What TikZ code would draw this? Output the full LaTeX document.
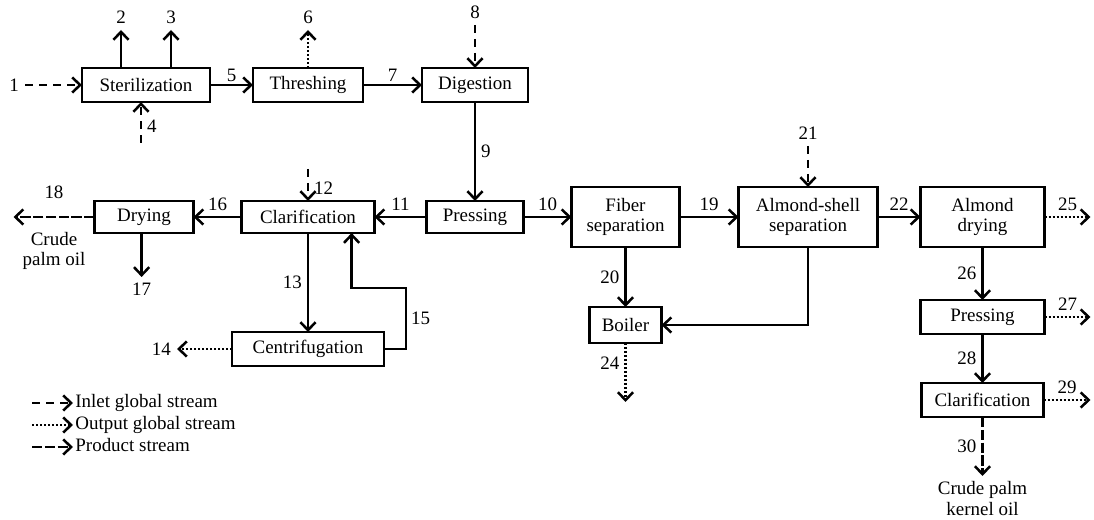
\documentclass[tikz,border=0pt]{standalone}
\usepackage{fontspec}
\setmainfont{Liberation Serif}
\usetikzlibrary{arrows.meta,positioning,calc}

\begin{document}
\begin{tikzpicture}[
  node distance = 12mm,
  every node/.style = {font=\fontsize{13.5}{14.5}\selectfont},
  unitop/.style  = {rectangle, draw, line width=2pt, minimum height=8.5mm,
                    align=center, inner sep=1mm, outer sep=0pt},
  tallop/.style  = {unitop, minimum height=15mm},
  arr/.style     = {-{Straight Barb[length=2mm,width=3.8mm]}, line width=1.8pt},
  inlet/.style   = {arr, dash pattern=on 2mm off 1.5mm},
  outlet/.style  = {arr, dash pattern=on 0.6mm off 0.4mm},
  prod/.style    = {arr, dash pattern=on 2.6mm off 0.6mm},
  lbl/.style     = {inner sep=3.5pt},
  legtxt/.style  = {inner sep=1.5pt, anchor=west, text height=3.3mm, text depth=1mm},
]
\useasboundingbox (0,0) rectangle (273.5mm,-130mm);

% ── Palm oil line ────────────────────────────────────────────
\node[unitop, minimum width=32mm] (ster) at (36.5mm,-21.25mm) {Sterilization};
\node[unitop, minimum width=27.5mm, right=10.75mm of ster] (thr) {Threshing};
\node[unitop, minimum width=26.5mm, right=14.75mm of thr]  (dig) {Digestion};
\node[unitop, minimum width=24.25mm, minimum height=8mm, below=24.75mm of dig] (press) {Pressing};
\node[unitop, minimum width=33.25mm, minimum height=8mm, left=13mm of press]  (clar)  {Clarification};
\node[unitop, minimum width=24.75mm, minimum height=8mm, left=12mm of clar]   (dry)   {Drying};
\node[unitop, minimum width=38mm, below=24.75mm of clar] (cent) {Centrifugation};

% ── Kernel line ──────────────────────────────────────────────
\node[tallop, minimum width=27mm, right=12mm of press]   (fib) {Fiber\\separation};
\node[tallop, minimum width=34.75mm, right=14.75mm of fib] (ash) {Almond-shell\\separation};
\node[tallop, minimum width=31mm, right=10.75mm of ash]  (ady) {Almond\\drying};
\node[unitop, minimum width=18mm, minimum height=9mm, below=15mm of fib] (boil) {Boiler};
\node[unitop, minimum width=31mm, below=13.25mm of ady]     (pressR) {Pressing};
\node[unitop, minimum width=30.5mm, below=12.25mm of pressR] (clarR) {Clarification};

% ── Streams, top row ─────────────────────────────────────────
\draw[inlet] (ster.west) ++(-14.25mm,0) node[lbl,left]{1} -- (ster.west);
\draw[arr] ([xshift=-6.25mm]ster.north) -- ++(0,9.5mm) node[lbl,above]{2};
\draw[arr] ([xshift=6.25mm]ster.north) -- ++(0,9.5mm) node[lbl,above]{3};
\draw[inlet] ([xshift=-1.25mm]ster.south) ++(0,-10.25mm)
  -- node[lbl,right,pos=0.4]{4} ([xshift=-1.25mm]ster.south);
\draw[arr] (ster) -- node[lbl,above,inner sep=1.5pt]{5} (thr);
\draw[outlet] (thr.north) -- ++(0,9.5mm) node[lbl,above]{6};
\draw[arr] (thr) -- node[lbl,above,inner sep=1.5pt]{7} (dig);
\draw[inlet] (dig.north) ++(0,10.75mm) node[lbl,above]{8} -- (dig.north);
\draw[arr] (dig.south) -- node[lbl,right]{9} (dig.south |- press.north);

% ── Streams, oil clarification ───────────────────────────────
\draw[arr] (press) -- node[lbl,above]{10} (fib);
\draw[arr] (press) -- node[lbl,above]{11} (clar);
\draw[inlet] (clar.north) ++(0,8mm) -- node[lbl,right,pos=0.6]{12} (clar.north);
\draw[arr] (clar.south) -- node[lbl,left]{13} (clar.south |- cent.north);
\draw[outlet] (cent.west) -- ++(-13.75mm,0) node[lbl,left]{14};
\draw[arr]
  (cent.east)
    -- ++(5.5mm,0) coordinate (RecA)
    |- ([xshift=10.9mm,yshift=-13.75mm]clar.south) coordinate (RecB)
    -- ([xshift=10.9mm]clar.south);
\node[lbl,right] at ($(RecA)!0.5!(RecA |- RecB)$) {15};
\draw[arr] (clar) -- node[lbl,above]{16} (dry);
\draw[arr] ([xshift=-0.6mm]dry.south) -- ++(0,-11mm) node[lbl,below]{17};
\draw[prod] (dry.west) -- node[lbl,above,yshift=3mm]{18}
  node[lbl,below,yshift=-2.3mm,align=center]{Crude\\palm oil} ++(-20.25mm,0);

% ── Streams, kernel line ─────────────────────────────────────
\draw[arr] (fib) -- node[lbl,above]{19} (ash);
\draw[arr] (fib.south) -- node[lbl,left]{20} (fib.south |- boil.north);
\draw[inlet] (ash.north) ++(0,10.25mm) node[lbl,above]{21} -- (ash.north);
\draw[arr] (ash) -- node[lbl,above]{22} (ady);
\draw[arr] (ash.south) |- (boil.east);
\draw[outlet] (boil.south) -- node[lbl,left,pos=0.35]{24} ++(0,-14.75mm);
\draw[outlet] (ady.east) -- node[lbl,above]{25} ++(11.5mm,0);
\draw[arr] (ady.south) -- node[lbl,left]{26} (ady.south |- pressR.north);
\draw[outlet] (pressR.east) -- node[lbl,above]{27} ++(11.5mm,0);
\draw[arr] (pressR.south) -- node[lbl,left]{28} (pressR.south |- clarR.north);
\draw[outlet] (clarR.east) -- node[lbl,above]{29} ++(11.75mm,0);
\draw[prod] (clarR.south) -- node[lbl,left]{30} ++(0,-14.75mm)
  node[below,inner sep=1pt,yshift=-0.7mm,align=center]{Crude palm\\kernel oil};

% ── Legend ───────────────────────────────────────────────────
\node[legtxt] (legin)   at (18.25mm,-100.75mm) {Inlet global stream};
\node[legtxt] (legout)  at (18.25mm,-106.25mm) {Output global stream};
\node[legtxt] (legprod) at (18.25mm,-111.75mm) {Product stream};
\draw[inlet]  (legin.west)   ++(-10.25mm,0) -- (legin.west);
\draw[outlet] (legout.west)  ++(-10.25mm,0) -- (legout.west);
\draw[prod]   (legprod.west) ++(-10.25mm,0) -- (legprod.west);

\end{tikzpicture}
\end{document}
